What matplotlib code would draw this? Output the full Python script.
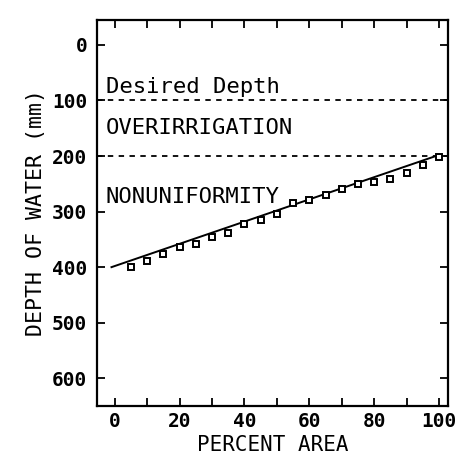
import numpy as np
import matplotlib
matplotlib.use("Agg")
import matplotlib.pyplot as plt

# percent area vs. depth of infiltrated water
pct_area = [5, 10, 15, 20, 25, 30, 35, 40, 45, 50,
            55, 60, 65, 70, 75, 80, 85, 90, 95, 100]
depth = [400, 389, 377, 364, 358, 346, 338, 322, 315, 304,
         284, 280, 271, 259, 251, 246, 241, 230, 217, 202]

# straight-line fit drawn through the points
line_x = [-1, 100]
line_y = [400, 198]

desired_depth = 100
min_depth = 200

x_ticks = [0, 20, 40, 60, 80, 100]
x_minor = [10, 30, 50, 70, 90]
y_ticks = [0, 100, 200, 300, 400, 500, 600]

mono = "DejaVu Sans Mono"
plt.rcParams["font.family"] = mono

fig = plt.figure(figsize=(4.57, 4.63), dpi=100)
ax = fig.add_axes([0.212, 0.123, 0.768, 0.834])

ax.axhline(desired_depth, color="black", linestyle=(0, (3, 3)), linewidth=1.3)
ax.axhline(min_depth, color="black", linestyle=(0, (3, 3)), linewidth=1.3)

ax.plot(line_x, line_y, color="black", linewidth=1.4)
ax.plot(pct_area, depth, linestyle="none", marker="s", markersize=5,
        markerfacecolor="white", markeredgecolor="black", markeredgewidth=1.4)

ax.text(-2.8, 86, "Desired Depth", fontsize=16, ha="left", va="baseline")
ax.text(-2.8, 161, "OVERIRRIGATION", fontsize=16, ha="left", va="baseline")
ax.text(-2.8, 284, "NONUNIFORMITY", fontsize=16, ha="left", va="baseline")

ax.set_xlim(-5.5, 102.7)
ax.set_ylim(650, -45)

ax.set_xticks(x_ticks)
ax.set_xticks(x_minor, minor=True)
ax.set_yticks(y_ticks)
ax.tick_params(axis="both", which="both", direction="in", top=True, right=True,
               width=1.3, labelsize=14)
ax.tick_params(axis="both", which="major", length=6)
ax.tick_params(axis="x", which="minor", length=6)
ax.tick_params(axis="x", pad=4)
ax.tick_params(axis="y", pad=7)
for lab in ax.get_xticklabels() + ax.get_yticklabels():
    lab.set_fontweight("bold")

for sp in ax.spines.values():
    sp.set_linewidth(1.6)

ax.set_xlabel("PERCENT AREA", fontsize=15, labelpad=3)
ax.set_ylabel("DEPTH OF WATER (mm)", fontsize=15.5, labelpad=4)

fig.savefig("out.png", dpi=100)
